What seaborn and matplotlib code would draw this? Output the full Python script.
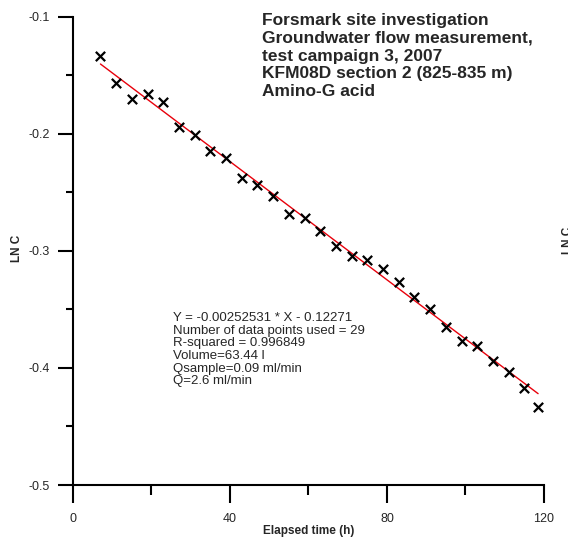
import numpy as np
import pandas as pd
import matplotlib
matplotlib.use("Agg")
import matplotlib.pyplot as plt
from matplotlib.ticker import MultipleLocator
import seaborn as sns

# Elapsed time (h) and natural log of tracer concentration
elapsed_h = [7, 11, 15, 19, 23, 27, 31, 35, 39, 43, 47, 51, 55, 59, 63,
             67, 71, 75, 79, 83, 87, 91, 95, 99, 103, 107, 111, 115, 118.5]
ln_c = [-0.1336, -0.1569, -0.1705, -0.1663, -0.1726, -0.1942, -0.2013,
        -0.2144, -0.2204, -0.2380, -0.2437, -0.2531, -0.2687, -0.2722,
        -0.2830, -0.2956, -0.3044, -0.3078, -0.3157, -0.3266, -0.3391,
        -0.3494, -0.3650, -0.3767, -0.3810, -0.3943, -0.4032, -0.4173,
        -0.4336]

# Linear regression result
slope = -0.00252531
intercept = -0.12271

title_lines = ["Forsmark site investigation",
               "Groundwater flow measurement,",
               "test campaign 3, 2007",
               "KFM08D section 2 (825-835 m)",
               "Amino-G acid"]
stats_lines = ["Y = -0.00252531 * X - 0.12271",
               "Number of data points used = 29",
               "R-squared = 0.996849",
               "Volume=63.44 l",
               "Qsample=0.09 ml/min",
               "Q=2.6 ml/min"]

sns.set_style("ticks")
plt.rcParams["font.family"] = ["Liberation Sans", "DejaVu Sans"]

fig = plt.figure(figsize=(5.68, 5.43), dpi=100)
ax = fig.add_axes([0.1285, 0.1068, 0.8292, 0.8624])

df = pd.DataFrame({"t": elapsed_h, "lnc": ln_c})
fit = pd.DataFrame({"t": [min(elapsed_h), max(elapsed_h)]})
fit["lnc"] = slope * fit["t"] + intercept

sns.lineplot(data=fit, x="t", y="lnc", ax=ax, color="#e8000b", linewidth=1.0)
sns.scatterplot(data=df, x="t", y="lnc", ax=ax, marker="x", color="black",
                s=45, linewidth=1.6, zorder=3)

ax.set_xlim(0, 120)
ax.set_ylim(-0.5, -0.1)
ax.set_xticks([0, 40, 80, 120])
ax.set_yticks([-0.5, -0.4, -0.3, -0.2, -0.1])
ax.set_yticklabels(["-0.5", "-0.4", "-0.3", "-0.2", "-0.1"])
ax.xaxis.set_minor_locator(MultipleLocator(20))
ax.yaxis.set_minor_locator(MultipleLocator(0.05))

for side in ("top", "right"):
    ax.spines[side].set_visible(False)
for side in ("left", "bottom"):
    ax.spines[side].set_linewidth(1.5)
    ax.spines[side].set_color("black")

ax.tick_params(axis="x", which="major", direction="out", length=13, width=1.5,
               labelsize=9, pad=7, color="black")
ax.tick_params(axis="x", which="minor", direction="out", length=7, width=1.5,
               color="black")
ax.tick_params(axis="y", which="major", direction="out", length=11, width=1.5,
               labelsize=9, pad=6, color="black")
ax.tick_params(axis="y", which="minor", direction="out", length=5, width=1.5,
               color="black")

ax.set_xlabel("Elapsed time (h)", fontsize=8.5, fontweight="bold", labelpad=0)
ax.set_ylabel("LN C", fontsize=8.5, fontweight="bold", va="center")
ax.yaxis.set_label_coords(-0.119, 0.505)

fig.text(262 / 568, 1 - 13 / 543, "\n".join(title_lines), fontsize=12.5,
         fontweight="bold", ha="left", va="top", linespacing=1.23)
fig.text(173 / 568, 1 - 312 / 543, "\n".join(stats_lines), fontsize=9.5,
         ha="left", va="top", linespacing=1.07)

# neighbouring panel's axis label, cut at the figure edge
fig.text(562 / 568, 1 - 240 / 543, "LN C", fontsize=8.5, fontweight="bold",
         rotation=90, ha="left", va="center")

fig.savefig("out.png", dpi=100)
